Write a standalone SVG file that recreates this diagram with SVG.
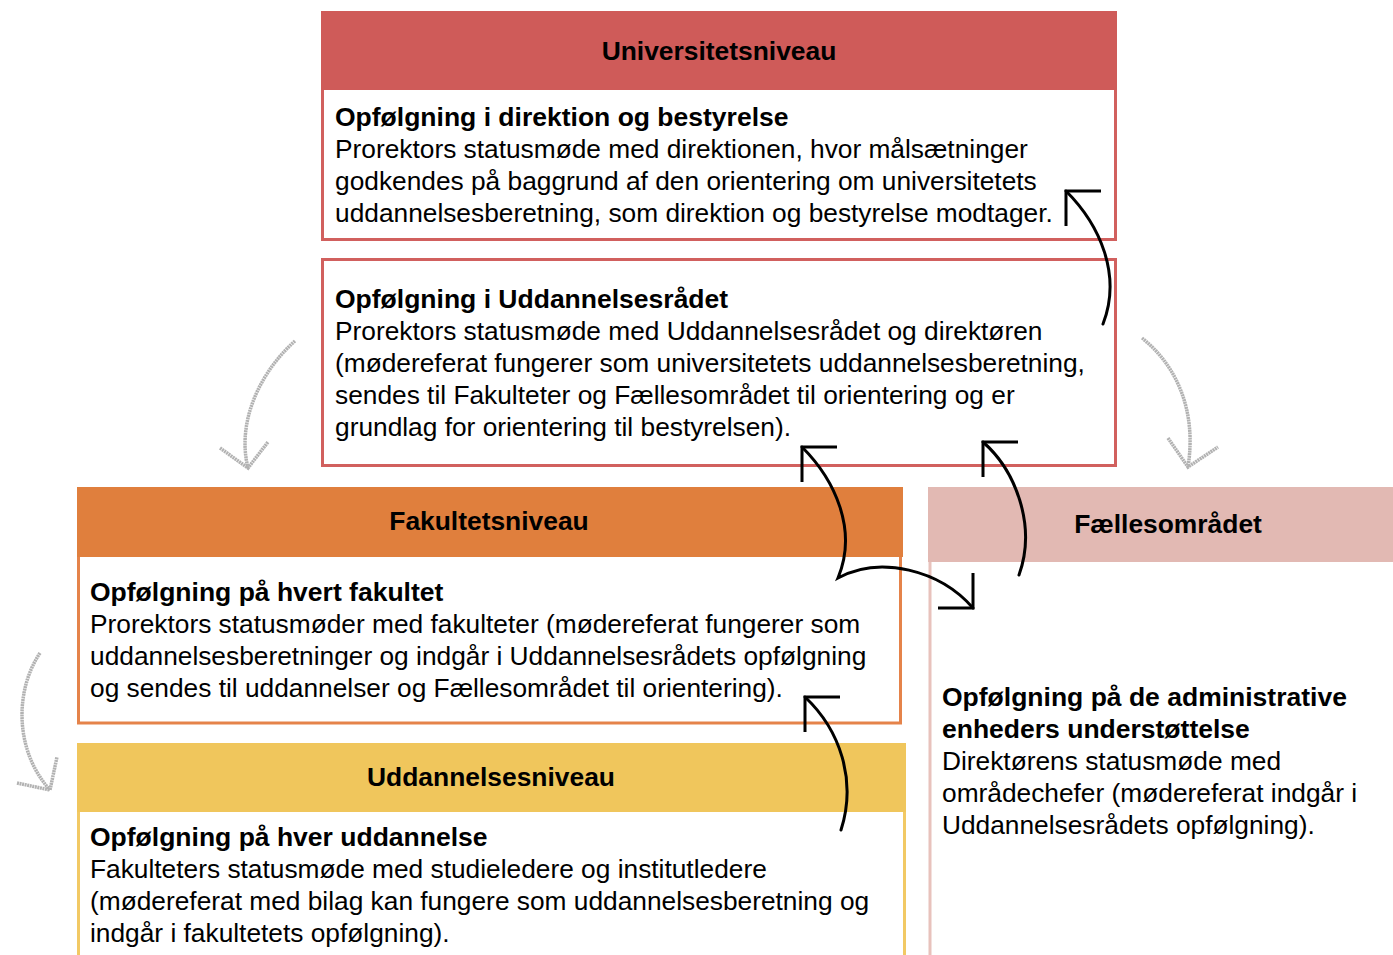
<svg xmlns="http://www.w3.org/2000/svg" width="1393" height="955" viewBox="0 0 1393 955">
<style>
  text { font-family: "Liberation Sans", Arial, sans-serif; font-size: 26.3px; fill: #000; }
  .b { font-weight: bold; font-size: 26.5px; }
  .h { font-weight: bold; font-size: 26.4px; text-anchor: middle; }
  .arr { fill: none; stroke: #000; stroke-width: 3; stroke-linecap: round; }
  .grey { fill: none; stroke: #B2B2B2; stroke-width: 3.5; stroke-dasharray: 2 0.6; }
</style>
<defs>
  <marker id="headA" markerUnits="userSpaceOnUse" markerWidth="40" markerHeight="40" refX="0" refY="0" orient="0" overflow="visible">
    <path d="M35,0 L0,0 L0,35" fill="none" stroke="#000" stroke-width="3"/>
  </marker>
  <marker id="headB" markerUnits="userSpaceOnUse" markerWidth="40" markerHeight="40" refX="0" refY="0" orient="180" overflow="visible">
    <path d="M35,0 L0,0 L0,35" fill="none" stroke="#000" stroke-width="3"/>
  </marker>
</defs>
<rect width="1393" height="955" fill="#fff"/>

<g id="universitetsniveau">
  <rect x="322.5" y="12.5" width="793" height="227" fill="#fff" stroke="#D1605E" stroke-width="3"/>
  <rect x="321" y="11" width="796" height="79" fill="#CF5B59"/>
  <text class="h" x="719" y="60">Universitetsniveau</text>
  <text class="b" x="335" y="126">Opfølgning i direktion og bestyrelse</text>
  <text x="335" y="158">Prorektors statusmøde med direktionen, hvor målsætninger</text>
  <text x="335" y="190">godkendes på baggrund af den orientering om universitetets</text>
  <text x="335" y="222">uddannelsesberetning, som direktion og bestyrelse modtager.</text>
</g>

<g id="uddannelsesraadet">
  <rect x="322.5" y="259.5" width="793" height="206" fill="#fff" stroke="#D1605E" stroke-width="3"/>
  <text class="b" x="335" y="308">Opfølgning i Uddannelsesrådet</text>
  <text x="335" y="340">Prorektors statusmøde med Uddannelsesrådet og direktøren</text>
  <text x="335" y="372">(mødereferat fungerer som universitetets uddannelsesberetning,</text>
  <text x="335" y="404">sendes til Fakulteter og Fællesområdet til orientering og er</text>
  <text x="335" y="436">grundlag for orientering til bestyrelsen).</text>
</g>

<g id="fakultetsniveau">
  <rect x="78.5" y="540" width="822" height="183" fill="#fff" stroke="#E5834A" stroke-width="3"/>
  <rect x="77" y="487" width="826" height="70" fill="#E07F3D"/>
  <text class="h" x="489" y="530">Fakultetsniveau</text>
  <text class="b" x="90" y="601">Opfølgning på hvert fakultet</text>
  <text x="90" y="633">Prorektors statusmøder med fakulteter (mødereferat fungerer som</text>
  <text x="90" y="665">uddannelsesberetninger og indgår i Uddannelsesrådets opfølgning</text>
  <text x="90" y="697">og sendes til uddannelser og Fællesområdet til orientering).</text>
</g>

<g id="uddannelsesniveau">
  <rect x="78.5" y="790" width="826" height="200" fill="#fff" stroke="#F2C964" stroke-width="3"/>
  <rect x="77" y="743" width="829" height="69" fill="#F0C65C"/>
  <text class="h" x="491" y="786">Uddannelsesniveau</text>
  <text class="b" x="90" y="846">Opfølgning på hver uddannelse</text>
  <text x="90" y="878">Fakulteters statusmøde med studieledere og institutledere</text>
  <text x="90" y="910">(mødereferat med bilag kan fungere som uddannelsesberetning og</text>
  <text x="90" y="942">indgår i fakultetets opfølgning).</text>
</g>

<g id="faellesomraadet">
  <rect x="930" y="540" width="480" height="450" fill="#fff" stroke="#E8C2BC" stroke-width="3"/>
  <rect x="928" y="487" width="465" height="75" fill="#E2B9B3"/>
  <text class="h" x="1168" y="533">Fællesområdet</text>
  <text class="b" x="942" y="706">Opfølgning på de administrative</text>
  <text class="b" x="942" y="738">enheders understøttelse</text>
  <text x="942" y="770">Direktørens statusmøde med</text>
  <text x="942" y="802">områdechefer (mødereferat indgår i</text>
  <text x="942" y="834">Uddannelsesrådets opfølgning).</text>
</g>

<g id="connectors">
  <path class="arr" d="M1066,191 C1100,225 1122,275 1103,324" marker-start="url(#headA)"/>
  <path class="arr" d="M802,447 C835,480 858,530 838,578 C880,555 940,570 973,608" marker-start="url(#headA)" marker-end="url(#headB)"/>
  <path class="arr" d="M983,442 C1015,470 1037,525 1019,575" marker-start="url(#headA)"/>
  <path class="arr" d="M805,697 C840,730 857,780 841,830" marker-start="url(#headA)"/>
  <path class="grey" d="M295,341 C262,370 236,420 248,468"/>
  <path class="grey" d="M220,448 L248,468 L268,442"/>
  <path class="grey" d="M40,653 C15,690 14,750 50,790"/>
  <path class="grey" d="M17,783 L50,790 L57,757"/>
  <path class="grey" d="M1142,338 C1176,365 1197,410 1188,467"/>
  <path class="grey" d="M1168,438 L1188,467 L1218,447"/>
</g>
</svg>
